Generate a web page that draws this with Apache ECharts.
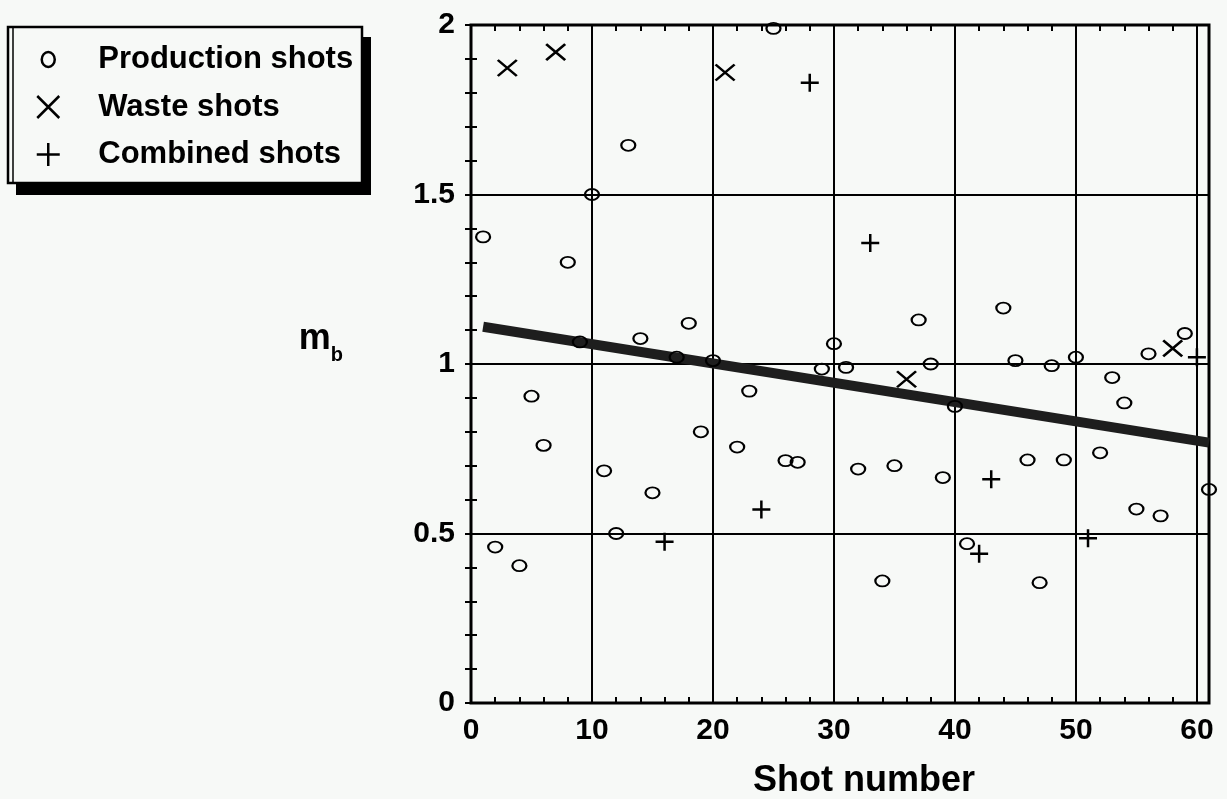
<!DOCTYPE html>
<html>
<head>
<meta charset="utf-8">
<script src="https://cdn.jsdelivr.net/npm/echarts@6/dist/echarts.min.js"></script>
<style>
html,body{margin:0;padding:0;background:#f7f9f7;}
#chart{width:1227px;height:799px;}
</style>
</head>
<body>
<div id="chart"></div>
<script>
// ---- Data ----
const productionX = [1,2,4,5,6,8,9,10,11,12,13,14,15,17,18,19,20,22,23,25,26,27,29,30,31,32,34,35,37,38,39,40,41,44,45,46,47,48,49,50,52,53,54,55,56,57,59,61];
const productionY = [1.375,0.46,0.405,0.905,0.76,1.30,1.065,1.50,0.685,0.50,1.645,1.075,0.62,1.02,1.12,0.80,1.01,0.755,0.92,1.99,0.715,0.71,0.985,1.06,0.99,0.69,0.36,0.70,1.13,1.00,0.665,0.875,0.47,1.165,1.01,0.717,0.355,0.995,0.717,1.02,0.738,0.96,0.885,0.572,1.03,0.552,1.09,0.63];
const wasteX = [3,7,21,36,58];
const wasteY = [1.873,1.92,1.86,0.955,1.046];
const combinedX = [16,24,28,33,42,43,51,60];
const combinedY = [0.476,0.571,1.83,1.357,0.44,0.66,0.486,1.02];
const trendX = [1,61];
const trendY = [1.11,0.768];
const xTicks = [0,10,20,30,40,50,60];
const yTicks = [0,0.5,1,1.5,2];
const legendNames = ['Production shots','Waste shots','Combined shots'];

const zip = (xs, ys) => xs.map((x, i) => [x, ys[i]]);

const BG = '#f7f9f7';
const FONT = 'Liberation Sans';
const ellipsePath = 'path://M0,5.5A7,5.5,0,1,1,14,5.5A7,5.5,0,1,1,0,5.5Z';
const crossPath = 'path://M0,0L18,16M18,0L0,16';
const plusPath = 'path://M9,0L9,18M0,9L18,9';

const chart = echarts.init(document.getElementById('chart'), null, {renderer: 'canvas'});

const minorAxisCommon = {
  type: 'value', min: 0, max: 61, interval: 2,
  axisLine: {show: false}, axisLabel: {show: false}, splitLine: {show: false},
  axisTick: {show: true, inside: true, length: 6, lineStyle: {color: '#000', width: 2}}
};
const yMinorCommon = {
  type: 'value', min: 0, max: 2, interval: 0.5,
  axisLine: {show: false}, splitLine: {show: false},
  axisTick: {show: true, inside: true, length: 6, lineStyle: {color: '#000', width: 2}},
  minorTick: {show: true, splitNumber: 5, length: 6, lineStyle: {color: '#000', width: 2}}
};

const option = {
  backgroundColor: BG,
  animation: false,
  textStyle: {fontFamily: FONT},
  grid: {left: 471, top: 25, width: 738, height: 678, show: true, outerBoundsMode: 'none', containLabel: false,
         borderColor: '#000', borderWidth: 3, backgroundColor: BG},
  graphic: [
    {type: 'rect', z: 1, shape: {x: 16, y: 37, width: 355, height: 158}, style: {fill: '#000'}},
    {type: 'rect', z: 2, shape: {x: 8, y: 27, width: 354, height: 156}, style: {fill: BG, stroke: '#000', lineWidth: 2.5}},
    {type: 'line', z: 3, shape: {x1: 13, y1: 28, x2: 13, y2: 182}, style: {stroke: '#000', lineWidth: 1.5}}
  ],
  legend: {
    orient: 'vertical', left: 2, top: 44, padding: 0,
    itemWidth: 90, itemHeight: 24, itemGap: 16.5, z: 10,
    selectedMode: false, symbolKeepAspect: true,
    textStyle: {fontFamily: FONT, fontSize: 31, fontWeight: 'bold', color: '#000', lineHeight: 24},
    data: [
      {name: legendNames[0], icon: 'path://M0,0M90,24M38.5,12A6.5,7.5,0,1,1,51.5,12A6.5,7.5,0,1,1,38.5,12Z'},
      {name: legendNames[1], icon: 'path://M0,0M90,24M34,1L56,23M56,1L34,23'},
      {name: legendNames[2], icon: 'path://M0,0M90,24M45,0.5L45,23.5M33.5,12L56.5,12'}
    ],
    itemStyle: {borderWidth: 2.5}
  },
  xAxis: [
    {
      type: 'value', min: 0, max: 61, interval: 10, position: 'bottom',
      axisLine: {show: false}, axisTick: {show: false},
      axisLabel: {showMaxLabel: false, fontFamily: FONT, fontSize: 30, fontWeight: 'bold', color: '#000', margin: 13},
      splitLine: {show: true, lineStyle: {color: '#000', width: 2}},
      name: 'Shot number', nameLocation: 'middle', nameGap: 60,
      nameTextStyle: {fontFamily: FONT, fontSize: 36, fontWeight: 'bold', color: '#000', padding: [0, 0, 0, 48]}
    },
    Object.assign({position: 'bottom'}, minorAxisCommon),
    Object.assign({position: 'top'}, minorAxisCommon)
  ],
  yAxis: [
    Object.assign({}, yMinorCommon, {
      position: 'left',
      axisLabel: {fontFamily: FONT, fontSize: 30, fontWeight: 'bold', color: '#000', margin: 16,
                  formatter: v => String(v)},
      splitLine: {show: true, lineStyle: {color: '#000', width: 2}},
      name: '{m|m}{b|b}', nameLocation: 'middle', nameRotate: 0, nameGap: 128,
      nameTextStyle: {
        padding: [0, 0, 50, 0],
        rich: {
          m: {fontFamily: FONT, fontSize: 36, fontWeight: 'bold', color: '#000', lineHeight: 53, verticalAlign: 'middle'},
          b: {fontFamily: FONT, fontSize: 20, fontWeight: 'bold', color: '#000', lineHeight: 20, verticalAlign: 'bottom'}
        }
      }
    }),
    Object.assign({}, yMinorCommon, {position: 'right', axisLabel: {show: false}})
  ],
  series: [
    {
      name: 'Trend', type: 'line', xAxisIndex: 0, yAxisIndex: 0,
      data: zip(trendX, trendY), symbol: 'none', silent: true, z: 2,
      lineStyle: {color: '#1e1e1e', width: 10}
    },
    {
      name: legendNames[0], type: 'scatter', xAxisIndex: 0, yAxisIndex: 0, z: 3,
      data: zip(productionX, productionY), symbol: ellipsePath, symbolSize: [14, 11],
      itemStyle: {color: 'transparent', borderColor: '#000', borderWidth: 2, opacity: 1}
    },
    {
      name: legendNames[1], type: 'scatter', xAxisIndex: 0, yAxisIndex: 0, z: 3,
      data: zip(wasteX, wasteY), symbol: crossPath, symbolSize: [19, 16],
      itemStyle: {color: 'transparent', borderColor: '#000', borderWidth: 2.5, opacity: 1}
    },
    {
      name: legendNames[2], type: 'scatter', xAxisIndex: 0, yAxisIndex: 0, z: 3,
      data: zip(combinedX, combinedY), symbol: plusPath, symbolSize: [18, 18],
      itemStyle: {color: 'transparent', borderColor: '#000', borderWidth: 2.5, opacity: 1}
    }
  ]
};
chart.setOption(option);
</script>
</body>
</html>
